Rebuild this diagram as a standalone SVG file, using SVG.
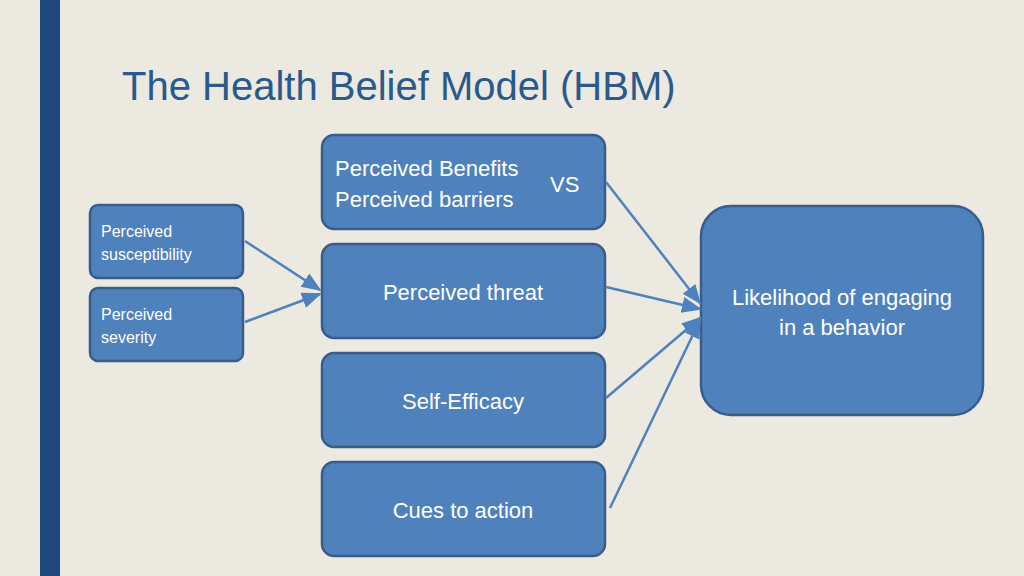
<svg xmlns="http://www.w3.org/2000/svg" width="1024" height="576" viewBox="0 0 1024 576">
<style>
.n{fill:#4F81BD;stroke:#385D8A;stroke-width:2.5}
.t{fill:#fff;font-family:"Liberation Sans",Arial,sans-serif;font-size:22px}
.s{fill:#fff;font-family:"Liberation Sans",Arial,sans-serif;font-size:16px}
.c{stroke:#4F81BD;stroke-width:2.5;fill:none;marker-end:url(#a)}
</style>
<defs><marker id="a" markerWidth="8" markerHeight="8" refX="7" refY="4" orient="auto" markerUnits="userSpaceOnUse" viewBox="0 0 8 8"><path d="M0,0L8,4L0,8z" fill="#4F81BD"/></marker>
<marker id="b" markerWidth="20" markerHeight="20" refX="18" refY="10" orient="auto" markerUnits="userSpaceOnUse" viewBox="0 0 20 20"><path d="M0,2L20,10L0,18z" fill="#4F81BD"/></marker></defs>
<rect width="1024" height="576" fill="#ECE9E0"/>
<rect x="40" y="0" width="20" height="576" fill="#1F497D"/>
<text x="122" y="100" font-family="'Liberation Sans',Arial,sans-serif" font-size="40" fill="#2A5A8C">The Health Belief Model (HBM)</text>
<g id="benefits"><rect class="n" x="322" y="135" width="283" height="94" rx="12"/><text class="t" x="335" y="176">Perceived Benefits</text><text class="t" x="335" y="207">Perceived barriers</text><text class="t" x="550" y="192">VS</text></g>
<g id="threat"><rect class="n" x="322" y="244" width="283" height="94" rx="12"/><text class="t" x="463" y="300" text-anchor="middle">Perceived  threat</text></g>
<g id="efficacy"><rect class="n" x="322" y="353" width="283" height="94" rx="12"/><text class="t" x="463" y="409" text-anchor="middle">Self-Efficacy</text></g>
<g id="cues"><rect class="n" x="322" y="462" width="283" height="94" rx="12"/><text class="t" x="463" y="518" text-anchor="middle">Cues to action</text></g>
<g id="susc"><rect class="n" x="90" y="205" width="153" height="73" rx="8"/><text class="s" x="101" y="237">Perceived</text><text class="s" x="101" y="260">susceptibility</text></g>
<g id="sev"><rect class="n" x="90" y="288" width="153" height="73" rx="8"/><text class="s" x="101" y="320">Perceived</text><text class="s" x="101" y="343">severity</text></g>
<g id="likely"><rect class="n" x="701" y="206" width="282" height="209" rx="30"/><text class="t" x="842" y="305" text-anchor="middle">Likelihood of engaging</text><text class="t" x="842" y="335" text-anchor="middle">in a behavior</text></g>
<g id="connectors">
<line x1="245" y1="241" x2="320" y2="290" stroke="#4F81BD" stroke-width="2.5" marker-end="url(#b)"/>
<line x1="245" y1="322" x2="320" y2="294" stroke="#4F81BD" stroke-width="2.5" marker-end="url(#b)"/>
<line x1="606" y1="182" x2="700" y2="303" stroke="#4F81BD" stroke-width="2.5" marker-end="url(#b)"/>
<line x1="606" y1="287" x2="700" y2="309" stroke="#4F81BD" stroke-width="2.5" marker-end="url(#b)"/>
<line x1="606" y1="398" x2="700" y2="318" stroke="#4F81BD" stroke-width="2.5" marker-end="url(#b)"/>
<line x1="610" y1="508" x2="700" y2="320" stroke="#4F81BD" stroke-width="2.5" marker-end="url(#b)"/>
</g>
</svg>
